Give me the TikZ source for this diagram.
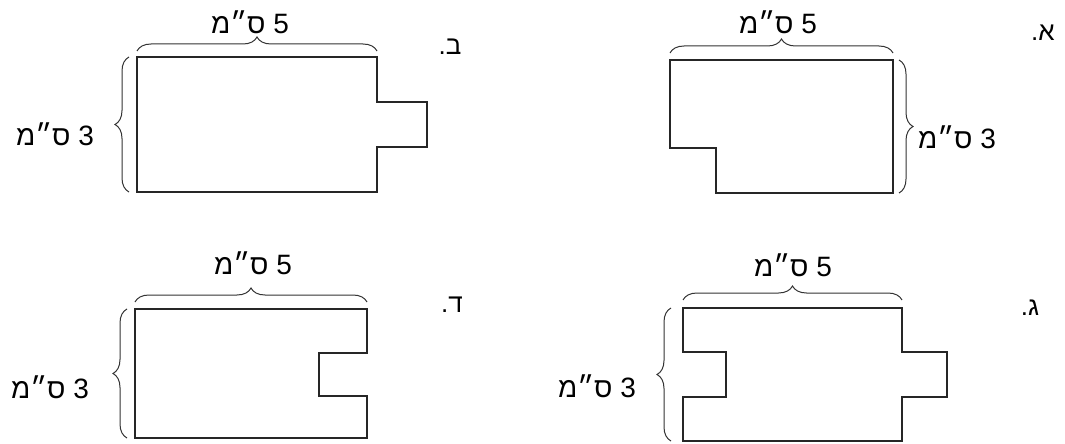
\documentclass[tikz,border=0pt]{standalone}
\usepackage{fontspec}
\setmainfont{Liberation Sans}
\newfontfamily\hebfont[Script=Hebrew]{Liberation Sans}
\TeXXeTstate=1
\usetikzlibrary{decorations.pathreplacing}
\tikzstyle{outline} = [draw=black!85, line width=1pt, line join=miter]
\tikzstyle{brc} = [draw=black!80, line width=0.5pt, decorate, decoration={brace, amplitude=7pt}]
\tikzstyle{dimlabel} = [font=\hebfont\fontsize{14}{14}\selectfont, inner sep=0pt]
\tikzstyle{tag} = [font=\hebfont\fontsize{13}{13}\selectfont, inner sep=0pt]

\begin{document}
\begin{tikzpicture}[x=0.5pt,y=-0.5pt]
  \useasboundingbox (0,0) rectangle (1065,444);

  % shape A (top right)
  \coordinate (a1) at (670,60);
  \coordinate (a2) at (893,60);
  \coordinate (a3) at (893,193);
  \coordinate (a4) at (670,193);
  \draw [outline] (a1) -- (a2) -- (a3) -- (716,193) -- (716,148) -- (670,148) -- cycle;
  \draw [brc] ([yshift=3.5pt]a1) -- ([yshift=3.5pt]a2);
  \draw [brc] ([xshift=3pt]a2) -- ([xshift=3pt]a3);
  \node [dimlabel] (a5) at (778,22) {\beginR 5 ס״מ\endR};
  \node [dimlabel] (a3cm) at (957,137) {\beginR 3 ס״מ\endR};
  \node [tag] (tagA) at (1043,33) {\beginR א.\endR};

  % shape B (top left)
  \coordinate (b1) at (137,57);
  \coordinate (b2) at (377,57);
  \coordinate (b3) at (377,192);
  \coordinate (b4) at (137,192);
  \draw [outline] (b1) -- (b2) -- (377,102) -- (427,102) -- (427,147) -- (377,147) -- (b3) -- (b4) -- cycle;
  \draw [brc] ([yshift=3pt]b1) -- ([yshift=3pt]b2);
  \draw [brc] ([xshift=-4pt]b4) -- ([xshift=-4pt]b1);
  \node [dimlabel] (b5) at (250,22) {\beginR 5 ס״מ\endR};
  \node [dimlabel] (b3cm) at (55,134) {\beginR 3 ס״מ\endR};
  \node [tag] (tagB) at (450,47) {\beginR ב.\endR};

  % shape D (bottom left)
  \coordinate (d1) at (135,309);
  \coordinate (d2) at (367,309);
  \coordinate (d3) at (367,438);
  \coordinate (d4) at (135,438);
  \draw [outline] (d1) -- (d2) -- (367,353) -- (319,353) -- (319,396) -- (367,396) -- (d3) -- (d4) -- cycle;
  \draw [brc] ([yshift=3.5pt]d1) -- ([yshift=3.5pt]d2);
  \draw [brc] ([xshift=-4pt]d4) -- ([xshift=-4pt]d1);
  \node [dimlabel] (d5) at (253,263) {\beginR 5 ס״מ\endR};
  \node [dimlabel] (d3cm) at (50,387) {\beginR 3 ס״מ\endR};
  \node [tag] (tagD) at (452,305) {\beginR ד.\endR};

  % shape C (bottom right)
  \coordinate (c1) at (683,308);
  \coordinate (c2) at (902,308);
  \coordinate (c3) at (902,441);
  \coordinate (c4) at (683,441);
  \draw [outline] (c1) -- (c2) -- (902,352) -- (947,352) -- (947,397) -- (902,397) -- (c3) -- (c4)
    -- (683,397) -- (726,397) -- (726,352) -- (683,352) -- cycle;
  \draw [brc] ([yshift=4pt]c1) -- ([yshift=4pt]c2);
  \draw [brc] ([xshift=-6pt]c4) -- ([xshift=-6pt]c1);
  \node [dimlabel] (c5) at (793,265) {\beginR 5 ס״מ\endR};
  \node [dimlabel] (c3cm) at (597,386) {\beginR 3 ס״מ\endR};
  \node [tag] (tagC) at (1030,308) {\beginR ג.\endR};
\end{tikzpicture}
\end{document}
